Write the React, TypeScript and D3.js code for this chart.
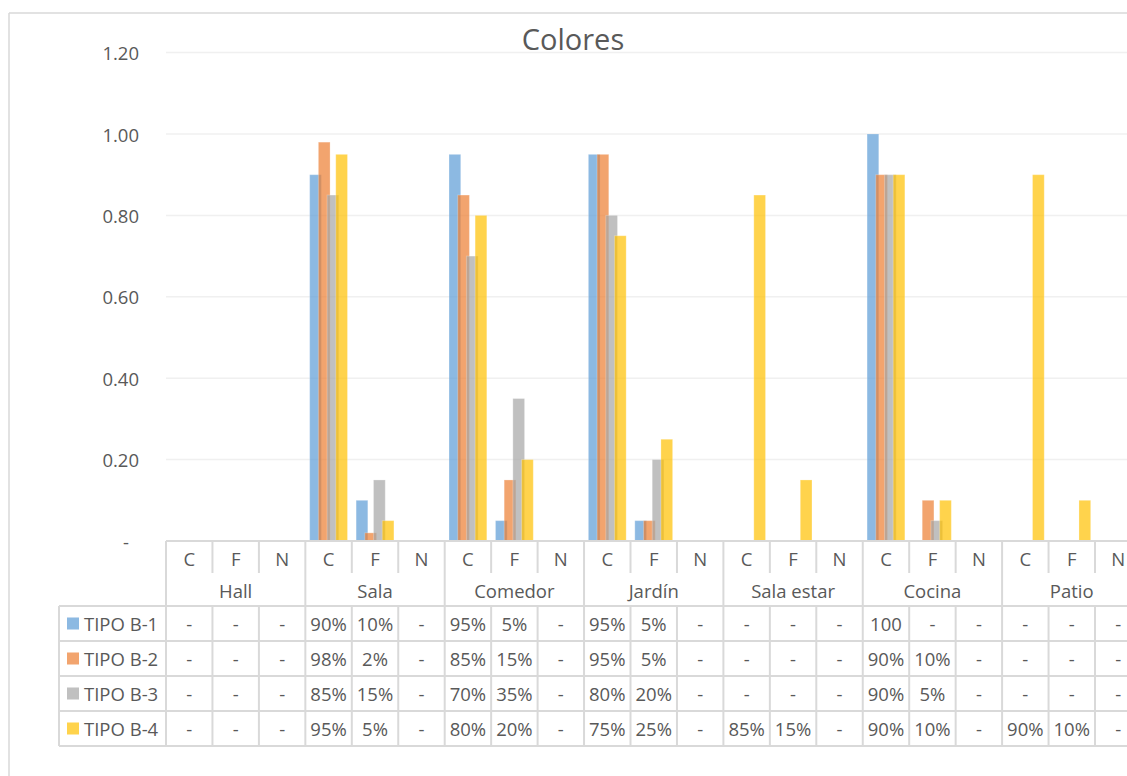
import React from "react";
import * as d3 from "d3";

// Rooms and the sub-category of each column
const groups = ["Hall", "Sala", "Comedor", "Jardín", "Sala estar", "Cocina", "Patio"];
const subCats = ["C", "F", "N"];

// Series names and colours
const seriesNames = ["TIPO B-1", "TIPO B-2", "TIPO B-3", "TIPO B-4"];
const seriesColors = ["#5B9BD5", "#ED7D31", "#A5A5A5", "#FFC000"];

// Values per column (Hall C,F,N, Sala C,F,N, ...); null = no value ("-")
const tipoB1 = [null, null, null, 0.9, 0.1, null, 0.95, 0.05, null, 0.95, 0.05, null, null, null, null, 1.0, null, null, null, null, null];
const tipoB2 = [null, null, null, 0.98, 0.02, null, 0.85, 0.15, null, 0.95, 0.05, null, null, null, null, 0.9, 0.1, null, null, null, null];
const tipoB3 = [null, null, null, 0.85, 0.15, null, 0.7, 0.35, null, 0.8, 0.2, null, null, null, null, 0.9, 0.05, null, null, null, null];
const tipoB4 = [null, null, null, 0.95, 0.05, null, 0.8, 0.2, null, 0.75, 0.25, null, 0.85, 0.15, null, 0.9, 0.1, null, 0.9, 0.1, null];

// Y axis ticks
const yTicks = [0, 0.2, 0.4, 0.6, 0.8, 1.0, 1.2];

const series = [tipoB1, tipoB2, tipoB3, tipoB4];

const W = 1127;
const H = 776;
const FONT = "'Open Sans', 'DejaVu Sans', sans-serif";
const TEXT = "#595959";
const LINE = "#D9D9D9";

const plotLeft = 166;
const colW = 46.45;
const axisY = 541;
const topY = 52.6;
const subRowBottom = 573;
const groupRowBottom = 606;
const rowH = 35;
const legendLeft = 59;

const barW = 11.7;
const barStep = 8.7;

function fmtCell(v: number | null) {
  if (v == null) return "-";
  if (v >= 1) return "100";
  return `${Math.round(v * 100)}%`;
}

function fmtTick(v: number) {
  return v === 0 ? "-" : v.toFixed(2);
}

export default function App() {
  const columns = groups.flatMap((g) => subCats.map((s) => `${g}|${s}`));
  const x = d3
    .scaleBand<string>()
    .domain(columns)
    .range([plotLeft, plotLeft + columns.length * colW])
    .padding(0);
  const y = d3.scaleLinear().domain([0, 1.2]).range([axisY, topY]);
  const plotRight = plotLeft + columns.length * colW;

  const tableTop = groupRowBottom;
  const tableBottom = tableTop + seriesNames.length * rowH;

  return (
    <svg
      width={W}
      height={H}
      style={{ position: "absolute", left: 0, top: 0, background: "#fff" }}
      fontFamily={FONT}
    >
      {/* chart frame */}
      <line x1={9} y1={13} x2={W + 10} y2={13} stroke={LINE} strokeWidth={1.5} />
      <line x1={9} y1={13} x2={9} y2={H + 10} stroke={LINE} strokeWidth={1.5} />

      {/* title */}
      <text x={573} y={38} textAnchor="middle" dominantBaseline="central" fontSize={29} fill={TEXT}>
        Colores
      </text>

      {/* gridlines */}
      {yTicks
        .filter((t) => t > 0)
        .map((t) => (
          <line key={t} x1={plotLeft} x2={plotRight} y1={y(t)} y2={y(t)} stroke="#F0F0F0" strokeWidth={1.5} />
        ))}

      {/* y tick labels */}
      {yTicks.map((t) => (
        <text
          key={t}
          x={t === 0 ? 129 : 139}
          y={y(t)}
          textAnchor="end"
          dominantBaseline="central"
          fontSize={18.5}
          fill={TEXT}
        >
          {fmtTick(t)}
        </text>
      ))}

      {/* bars */}
      {series.map((vals, si) =>
        vals.map((v, ci) => {
          if (v == null) return null;
          const cx = (x(columns[ci]) as number) + x.bandwidth() / 2;
          const bx = cx + (si - 1.5) * barStep - barW / 2;
          return (
            <rect
              key={`${si}-${ci}`}
              x={bx}
              y={y(v)}
              width={barW}
              height={y(0) - y(v)}
              fill={seriesColors[si]}
              fillOpacity={0.7}
              stroke="#ffffff"
              strokeOpacity={0.25}
              strokeWidth={1}
            />
          );
        })
      )}

      {/* category axis line */}
      <line x1={plotLeft} x2={plotRight} y1={axisY} y2={axisY} stroke={LINE} strokeWidth={2} />
      <line x1={plotLeft} x2={plotLeft} y1={axisY} y2={tableBottom} stroke={LINE} strokeWidth={2} />

      {/* sub-category ticks and labels */}
      {columns.map((c, i) => {
        const left = x(c) as number;
        const isGroupEdge = i % 3 === 0;
        return (
          <g key={c}>
            {i > 0 && (
              <line
                x1={left}
                x2={left}
                y1={axisY}
                y2={isGroupEdge ? tableBottom : subRowBottom}
                stroke={LINE}
                strokeWidth={2}
              />
            )}
            {i > 0 && !isGroupEdge && (
              <line x1={left} x2={left} y1={tableTop} y2={tableBottom} stroke={LINE} strokeWidth={2} />
            )}
            <text
              x={left + x.bandwidth() / 2}
              y={558}
              textAnchor="middle"
              dominantBaseline="central"
              fontSize={18.5}
              fill={TEXT}
            >
              {c.split("|")[1]}
            </text>
          </g>
        );
      })}
      <line x1={plotRight} x2={plotRight} y1={axisY} y2={tableBottom} stroke={LINE} strokeWidth={2} />

      {/* group labels */}
      {groups.map((g, gi) => {
        const left = x(`${g}|C`) as number;
        return (
          <text
            key={g}
            x={left + 1.5 * colW}
            y={590}
            textAnchor="middle"
            dominantBaseline="central"
            fontSize={18.5}
            fill={TEXT}
          >
            {g}
          </text>
        );
      })}

      {/* data table rows */}
      {seriesNames.map((_, ri) => (
        <line
          key={`h${ri}`}
          x1={legendLeft}
          x2={plotRight}
          y1={tableTop + ri * rowH}
          y2={tableTop + ri * rowH}
          stroke={LINE}
          strokeWidth={2}
        />
      ))}
      <line x1={legendLeft} x2={plotRight} y1={tableBottom} y2={tableBottom} stroke={LINE} strokeWidth={2} />
      <line x1={legendLeft} x2={legendLeft} y1={tableTop} y2={tableBottom} stroke={LINE} strokeWidth={2} />

      {seriesNames.map((name, ri) => {
        const cy = tableTop + ri * rowH + rowH / 2;
        return (
          <g key={name}>
            <rect x={67} y={cy - 6} width={12} height={12} fill={seriesColors[ri]} fillOpacity={0.7} />
            <text x={84} y={cy} dominantBaseline="central" fontSize={18.5} fill={TEXT}>
              {name}
            </text>
            {series[ri].map((v, ci) => (
              <text
                key={ci}
                x={(x(columns[ci]) as number) + x.bandwidth() / 2}
                y={cy}
                textAnchor="middle"
                dominantBaseline="central"
                fontSize={18.5}
                fill={TEXT}
              >
                {fmtCell(v)}
              </text>
            ))}
          </g>
        );
      })}
    </svg>
  );
}
